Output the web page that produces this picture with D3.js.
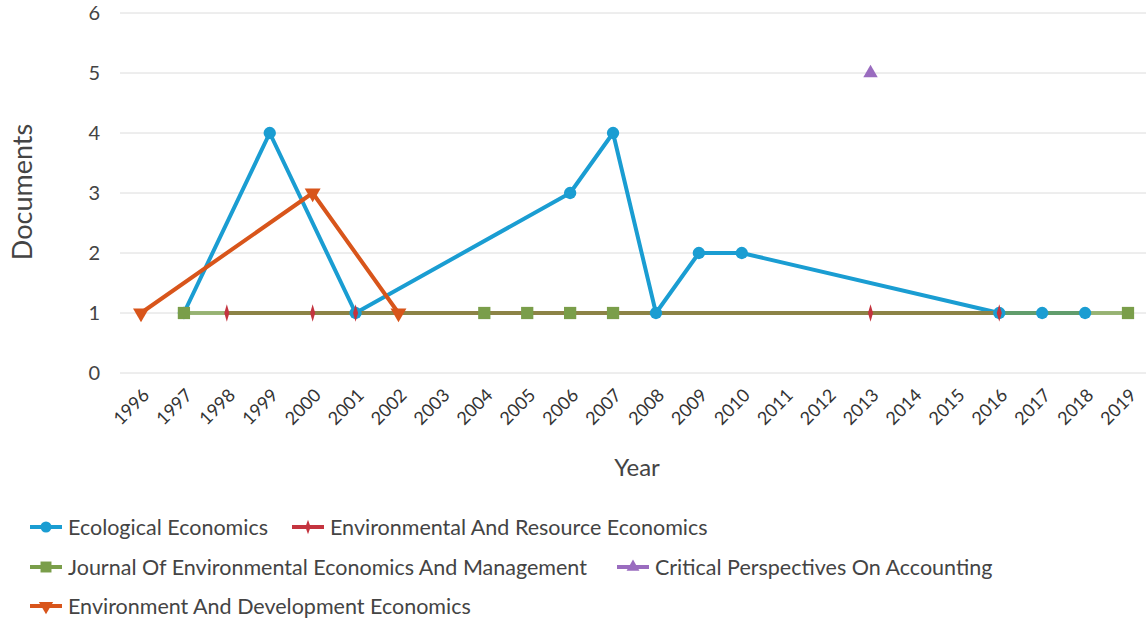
<!DOCTYPE html>
<html>
<head>
<meta charset="utf-8">
<script src="https://cdn.jsdelivr.net/npm/d3@7"></script>
<style>
  body { margin: 0; background: #fff; }
  svg { font-family: Lato, "Open Sans", sans-serif; }
</style>
</head>
<body>
<div id="container"></div>
<script>
"use strict";

const years = ["1996", "1997", "1998", "1999", "2000", "2001", "2002", "2003", "2004", "2005",
  "2006", "2007", "2008", "2009", "2010", "2011", "2012", "2013", "2014", "2015",
  "2016", "2017", "2018", "2019"];
const yTicks = [0, 1, 2, 3, 4, 5, 6];

// documents per year, null where the source has none
const ecological = [null, 1, null, 4, null, 1, null, null, null, null,
  3, 4, 1, 2, 2, null, null, null, null, null, 1, 1, 1, null];
const envResource = [null, null, 1, null, 1, 1, null, null, null, null,
  null, null, null, null, null, null, null, 1, null, null, 1, null, null, null];
const jeem = [null, 1, null, null, null, null, null, null, 1, 1,
  1, 1, null, null, null, null, null, null, null, null, null, null, null, 1];
const critical = [null, null, null, null, null, null, null, null, null, null,
  null, null, null, null, null, null, null, 5, null, null, null, null, null, null];
const envDev = [1, null, null, null, 3, null, 1, null, null, null,
  null, null, null, null, null, null, null, null, null, null, null, null, null, null];

const series = [
  { name: "Ecological Economics", values: ecological, color: "#1a9dd2", symbol: d3.symbolCircle, size: 120, opacity: 1 },
  { name: "Environmental And Resource Economics", values: envResource, color: "#c4343f", symbol: d3.symbolDiamond, size: 45, opacity: 1 },
  { name: "Journal Of Environmental Economics And Management", values: jeem, color: "#7a9e4a", symbol: d3.symbolSquare, size: 150, opacity: 0.75 },
  { name: "Critical Perspectives On Accounting", values: critical, color: "#9a6cbf", symbol: d3.symbolTriangle, size: 90, opacity: 1 },
  { name: "Environment And Development Economics", values: envDev, color: "#d8551b", symbol: d3.symbolTriangle, size: 110, opacity: 1, flip: true }
];

const width = 1146, height = 621;
const svg = d3.select("#container").append("svg")
  .attr("width", width).attr("height", height);

const x = d3.scalePoint().domain(years).range([141, 1128]);
const y = d3.scaleLinear().domain([0, 6]).range([373, 13]);

// grid lines
svg.append("g").selectAll("line").data(yTicks).enter().append("line")
  .attr("x1", 120).attr("x2", 1146)
  .attr("y1", d => y(d)).attr("y2", d => y(d))
  .attr("stroke", "#dcdcdc").attr("stroke-width", 1);

// y axis labels
const yAxis = svg.append("g")
  .attr("transform", "translate(100,0)")
  .call(d3.axisLeft(y).tickValues(yTicks).tickSize(0).tickPadding(0).tickFormat(d3.format("d")));
yAxis.select(".domain").remove();
yAxis.selectAll("text").attr("font-size", 20).attr("fill", "#444").attr("font-family", "Lato, sans-serif");

// x axis labels
const xAxis = svg.append("g")
  .attr("transform", "translate(0,0)")
  .call(d3.axisBottom(x).tickSize(0).tickPadding(0));
xAxis.select(".domain").remove();
xAxis.selectAll(".tick").attr("transform", d => `translate(${x(d) + 5},392)`);
xAxis.selectAll("text")
  .attr("font-size", 18).attr("fill", "#333").attr("font-family", "Lato, sans-serif")
  .attr("text-anchor", "end")
  .attr("y", 0).attr("dy", "0.35em")
  .attr("transform", "rotate(-45)");

svg.append("text")
  .attr("x", 637).attr("y", 476)
  .attr("text-anchor", "middle")
  .attr("font-size", 24).attr("fill", "#444")
  .text("Year");

svg.append("text")
  .attr("transform", "translate(32,192) rotate(-90)")
  .attr("text-anchor", "middle")
  .attr("font-size", 27).attr("fill", "#444")
  .text("Documents");

// lines: draw only between consecutive existing points (skip nulls)
series.forEach(s => {
  const pts = s.values.map((v, i) => v === null ? null : { yr: years[i], v: v }).filter(p => p);
  svg.append("path")
    .datum(pts)
    .attr("fill", "none")
    .attr("stroke", s.color)
    .attr("stroke-width", 4)
    .attr("stroke-opacity", s.opacity)
    .attr("stroke-linejoin", "round")
    .attr("d", d3.line().x(p => x(p.yr)).y(p => y(p.v)));
});

// markers
series.forEach(s => {
  const pts = s.values.map((v, i) => v === null ? null : { yr: years[i], v: v }).filter(p => p);
  svg.append("g").selectAll("path").data(pts).enter().append("path")
    .attr("d", d3.symbol().type(s.symbol).size(s.size))
    .attr("transform", p => `translate(${x(p.yr)},${y(p.v)})` + (s.flip ? " rotate(180)" : "") +
      (s.symbol === d3.symbolDiamond ? " scale(0.7,1.4)" : ""))
    .attr("fill", s.color);
});

// legend
const legendPos = [[30, 527], [292, 527], [30, 567], [617, 567], [30, 606]];
series.forEach((s, i) => {
  const g = svg.append("g").attr("transform", `translate(${legendPos[i][0]},${legendPos[i][1]})`);
  g.append("line").attr("x1", 0).attr("x2", 32).attr("y1", 0).attr("y2", 0)
    .attr("stroke", s.color).attr("stroke-width", 4);
  g.append("path")
    .attr("d", d3.symbol().type(s.symbol).size(s.size * 0.8))
    .attr("transform", "translate(16,0)" + (s.flip ? " rotate(180)" : "") +
      (s.symbol === d3.symbolDiamond ? " scale(0.8,1.3)" : ""))
    .attr("fill", s.color);
  g.append("text")
    .attr("x", 38).attr("y", 0).attr("dy", "0.35em")
    .attr("font-size", 21.5).attr("fill", "#444")
    .text(s.name);
});
</script>
</body>
</html>
